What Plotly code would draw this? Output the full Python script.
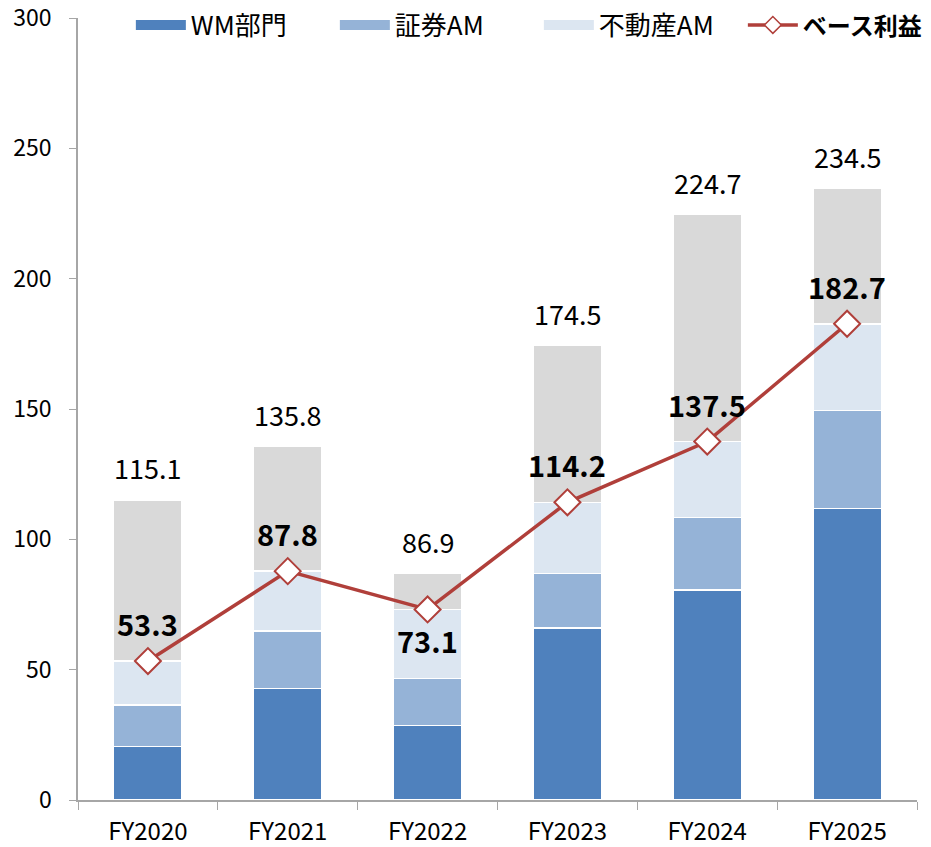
import plotly.graph_objects as go

# data
years = ['FY2020', 'FY2021', 'FY2022', 'FY2023', 'FY2024', 'FY2025']
wm = [20.5, 42.8, 28.5, 65.9, 80.6, 111.8]
sec_am = [15.9, 22.0, 18.2, 21.0, 27.8, 37.6]
re_am = [16.9, 23.0, 26.4, 27.3, 29.1, 33.3]
other = [61.8, 48.0, 13.8, 60.3, 87.2, 51.8]
base_profit = [53.3, 87.8, 73.1, 114.2, 137.5, 182.7]
totals = [115.1, 135.8, 86.9, 174.5, 224.7, 234.5]

c_wm = '#4f81bd'
c_sec = '#95b3d7'
c_re = '#dce6f1'
c_other = '#d9d9d9'
c_line = '#b03f3a'

FONT = 'Noto Sans CJK JP, Noto Sans, sans-serif'

fig = go.Figure()

for vals, col in [(wm, c_wm), (sec_am, c_sec), (re_am, c_re), (other, c_other)]:
    fig.add_trace(go.Bar(
        x=years, y=vals,
        marker=dict(color=col, line=dict(color='white', width=1.5)),
        showlegend=False,
        hoverinfo='skip'))

fig.add_trace(go.Scatter(
    x=years, y=base_profit,
    mode='lines+markers',
    line=dict(color=c_line, width=3.5),
    marker=dict(symbol='diamond', size=20, color='white',
                line=dict(color=c_line, width=2)),
    showlegend=False))

# legend entries (flat rectangle look)
for name, col in [('WM部門', c_wm), ('証券AM', c_sec), ('不動産AM', c_re)]:
    fig.add_trace(go.Scatter(
        x=[None], y=[None], mode='lines', name=name,
        line=dict(color=col, width=12)))
fig.add_trace(go.Scatter(
    x=[None], y=[None], mode='lines+markers',
    name='<b><span style="font-size:24px">ベース利益</span></b>',
    line=dict(color=c_line, width=3.5),
    marker=dict(symbol='diamond', size=13, color='white',
                line=dict(color=c_line, width=1.5))))

annotations = []
for yr, t in zip(years, totals):
    annotations.append(dict(x=yr, y=t, text='%.1f' % t, showarrow=False,
                            yshift=32, font=dict(size=27, color='black')))
for yr, b in zip(years, base_profit):
    shift = -31 if yr == 'FY2022' else 38
    annotations.append(dict(x=yr, y=b, text='<b>%.1f</b>' % b, showarrow=False,
                            yshift=shift, font=dict(size=29, color='black')))

fig.update_layout(
    width=931, height=847,
    margin=dict(l=78, r=14, t=18, b=47, autoexpand=False),
    barmode='stack',
    bargap=0.51,
    paper_bgcolor='white',
    plot_bgcolor='white',
    font=dict(family=FONT, color='black'),
    annotations=annotations,
    legend=dict(orientation='h', x=0.063, xanchor='left', y=0.991,
                yanchor='middle', font=dict(size=26), bgcolor='rgba(0,0,0,0)',
                itemwidth=50, entrywidth=139, entrywidthmode='pixels',
                traceorder='normal'),
)

fig.update_xaxes(
    showline=True, linecolor='#a6a6a6', linewidth=1.5,
    ticks='outside', tickson='boundaries', ticklen=8, tickcolor='#a6a6a6',
    tickfont=dict(size=24), ticklabelstandoff=9, ticklabeloverflow='allow',
    showgrid=False, zeroline=False, automargin=False)
fig.update_yaxes(
    range=[0, 300], dtick=50,
    showline=True, linecolor='#a6a6a6', linewidth=1.5,
    ticks='outside', ticklen=7, tickcolor='#a6a6a6',
    tickfont=dict(size=23), ticklabelstandoff=13, ticklabeloverflow='allow',
    showgrid=False, zeroline=False, automargin=False)

# drop the browser's default body margin so the figure sits at the corner
fig.write_html('out.html', config={'displayModeBar': False},
               post_script="document.body.style.margin='0';")
